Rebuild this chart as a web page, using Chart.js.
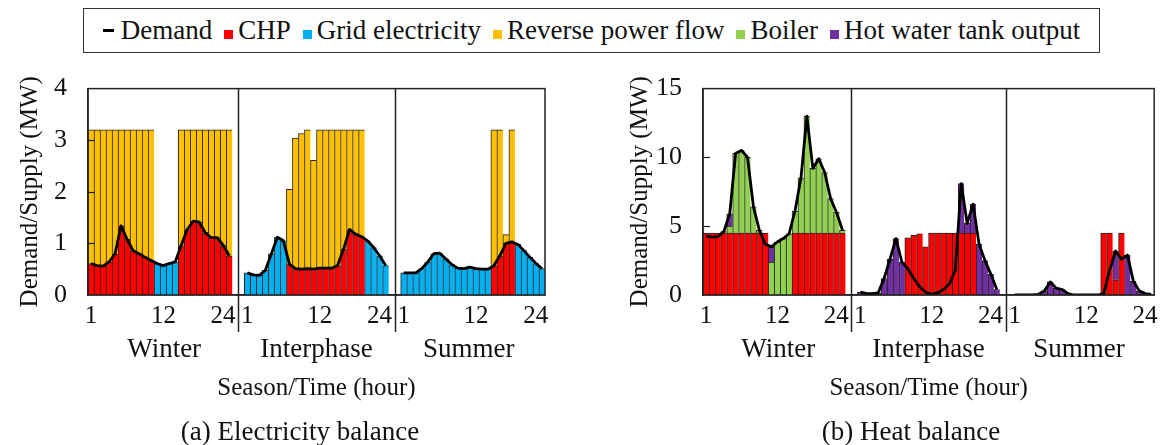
<!DOCTYPE html>
<html>
<head>
<meta charset="utf-8">
<script src="https://cdn.jsdelivr.net/npm/chart.js@4/dist/chart.umd.min.js"></script>
<style>
  html, body { margin: 0; padding: 0; background: #fff; }
  body { width: 1168px; height: 445px; position: relative; overflow: hidden; font-family: 'Liberation Serif', 'Times New Roman', serif; color: #111; }
  #legend { position: absolute; left: 83px; top: 8px; width: 1017px; height: 45px; box-sizing: border-box; border: 1.5px solid #333;
            display: flex; align-items: center; justify-content: center; font-size: 27px; white-space: nowrap; }
  #legend .item { display: flex; align-items: center; margin: 0 6px; }
  #legend .mk { display: inline-block; width: 9px; height: 9px; margin-right: 5px; margin-top: 7px; }
  #legend .ln { display: inline-block; width: 11px; height: 3px; background: #000; margin-right: 7px; }
  .cap { position: absolute; top: 415px; width: 360px; text-align: center; font-size: 27px; line-height: 32px; }
  #capLeft { left: 120px; }
  #capRight { left: 731px; }
  #cLeft { position: absolute; left: 0; top: 60px; }
  #cRight { position: absolute; left: 590px; top: 60px; }
</style>
</head>
<body>
<div id="legend"></div>
<canvas id="cLeft" width="590" height="385"></canvas>
<canvas id="cRight" width="578" height="385"></canvas>
<div class="cap" id="capLeft"></div>
<div class="cap" id="capRight"></div>
<script>
// ============================================================
// DATA (hourly values, 24 per season)
// ============================================================
var hourLabels = ['1','2','3','4','5','6','7','8','9','10','11','12','13','14','15','16','17','18','19','20','21','22','23','24'];
var shownHours = ['1', '12', '24'];
var seasons = ['Winter', 'Interphase', 'Summer'];
var captions = ['(a) Electricity balance', '(b) Heat balance'];

var legendNames = ['Demand', 'CHP', 'Grid electricity', 'Reverse power flow', 'Boiler', 'Hot water tank output'];
var legendColors = ['#000000', '#ff0000', '#00b0f0', '#ffc000', '#92d050', '#7030a0'];

// --- electricity (MW)
var elecDemandWinter = [0.61,0.57,0.56,0.64,0.80,1.34,1.08,0.86,0.80,0.73,0.67,0.61,0.57,0.61,0.64,0.96,1.27,1.43,1.41,1.21,1.11,1.11,0.96,0.76];
var elecChpWinter    = [0.61,0.57,0.56,0.64,0.80,1.34,1.08,0.86,0.80,0.73,0.67,null,null,null,null,0.96,1.27,1.43,1.41,1.21,1.11,1.11,0.96,0.76];
var elecGridWinter   = [null,null,null,null,null,null,null,null,null,null,null,0.61,0.57,0.61,0.64,null,null,null,null,null,null,null,null,null];
var elecRevWinter    = [2.59,2.63,2.64,2.56,2.40,1.86,2.12,2.34,2.40,2.47,2.53,null,null,null,null,2.24,1.93,1.77,1.79,1.99,2.09,2.09,2.24,2.44];

var elecDemandInter  = [0.43,0.39,0.38,0.48,0.80,1.12,1.05,0.60,0.51,0.50,0.51,0.50,0.52,0.52,0.52,0.57,0.89,1.27,1.18,1.13,1.05,0.92,0.76,0.57];
var elecChpInter     = [null,null,null,null,null,null,null,0.60,0.51,0.50,0.51,0.50,0.52,0.52,0.52,0.57,0.89,1.27,1.18,1.13,null,null,null,null];
var elecGridInter    = [0.43,0.39,0.38,0.48,0.80,1.12,1.05,null,null,null,null,null,null,null,null,null,null,null,null,null,1.05,0.92,0.76,0.57];
var elecRevInter     = [null,null,null,null,null,null,null,1.45,2.53,2.63,2.69,2.11,2.68,2.68,2.68,2.63,2.31,1.93,2.02,2.07,null,null,null,null];

var elecDemandSummer = [0.43,0.43,0.43,0.51,0.64,0.80,0.81,0.70,0.59,0.52,0.51,0.54,0.51,0.50,0.50,0.57,0.76,1.00,1.03,0.98,0.86,0.73,0.61,0.51];
var elecChpSummer    = [null,null,null,null,null,null,null,null,null,null,null,null,null,null,null,0.57,0.76,1.00,1.03,null,null,null,null,null];
var elecGridSummer   = [0.43,0.43,0.43,0.51,0.64,0.80,0.81,0.70,0.59,0.52,0.51,0.54,0.51,0.50,0.50,null,null,null,null,0.98,0.86,0.73,0.61,0.51];
var elecRevSummer    = [null,null,null,null,null,null,null,null,null,null,null,null,null,null,null,2.63,2.44,0.17,2.17,null,null,null,null,null];

// --- heat (MW)
var heatDemandWinter = [4.3,4.2,4.25,4.6,5.9,10.3,10.5,10.0,6.4,4.7,3.7,3.5,3.85,4.1,4.45,6.1,8.5,13.0,9.2,9.9,8.9,7.0,6.0,4.7];
var heatChpWinter    = [4.5,4.5,4.5,4.5,4.5,4.5,4.5,4.5,4.5,4.5,4.5,null,null,null,null,4.5,4.5,4.5,4.5,4.5,4.5,4.5,4.5,4.5];
var heatBoilerWinter = [null,null,null,0.1,0.5,5.8,6.0,5.5,1.9,0.2,null,2.4,3.85,4.1,4.45,1.6,4.0,8.5,4.7,5.4,4.4,2.5,1.5,0.2];
var heatTankWinter   = [null,null,null,null,0.9,null,null,null,null,null,null,1.1,null,null,null,null,null,null,null,null,null,null,null,null];

var heatDemandInter  = [0.2,0.12,0.1,0.15,1.2,2.6,4.1,2.4,1.9,1.2,0.6,0.2,0.05,0.15,0.4,0.8,1.8,8.1,5.2,6.6,3.7,2.5,1.5,0.4];
var heatChpInter     = [null,null,null,null,null,null,null,null,4.15,4.33,4.45,3.5,4.5,4.5,4.5,4.5,4.5,4.5,4.5,4.5,null,null,null,null];
var heatBoilerInter  = [null,null,null,null,null,null,null,null,null,null,null,null,null,null,null,null,null,null,null,null,null,null,null,null];
var heatTankInter    = [0.2,0.12,0.1,0.15,1.2,2.6,4.1,2.4,null,null,null,null,null,null,null,null,null,3.6,0.7,2.1,3.7,2.5,1.5,0.4];

var heatDemandSummer = [0,0,0,0,0.05,0.3,0.95,0.5,0.4,0.1,0,0,0,0,0,0.1,1.8,3.2,2.6,2.9,1.0,0.3,0.1,0.05];
var heatChpSummer    = [null,null,null,null,null,null,null,null,null,null,null,null,null,null,null,4.5,4.5,1.1,4.5,null,null,null,null,null];
var heatBoilerSummer = [null,null,null,null,null,null,null,null,null,null,null,null,null,null,null,null,null,null,null,null,null,null,null,null];
var heatTankSummer   = [null,null,null,null,0.05,0.3,0.95,0.5,0.4,0.1,null,null,null,null,null,null,null,2.1,null,2.9,1.0,0.3,0.1,0.05];

// ============================================================
// helpers
// ============================================================
var GAP = [null, null];              // two empty slots between seasons
var FONT = "'Liberation Serif', 'Times New Roman', serif";
var TXT = '#111';

function joinSeasons(w, i, s) { return w.concat(GAP, i, GAP, s); }
var slotLabels = joinSeasons(hourLabels, hourLabels, hourLabels).map(function (l) { return l === null ? '' : l; });

// hour labels sit a little off-centre in the original (12 nudged right, 24 left of the divider)
function hourTick(v, idx) {
  var l = slotLabels[idx];
  if (shownHours.indexOf(l) < 0) return '';
  if (l === '12') return '\u2002' + l;
  if (l === '24') return l + '\u2002';
  return l;
}

// legend + captions (shared html)
(function () {
  var lg = document.getElementById('legend');
  legendNames.forEach(function (n, k) {
    var it = document.createElement('span');
    it.className = 'item';
    var mk = document.createElement('span');
    mk.className = k === 0 ? 'ln' : 'mk';
    if (k > 0) mk.style.background = legendColors[k];
    it.appendChild(mk);
    it.appendChild(document.createTextNode(n));
    lg.appendChild(it);
  });
  document.getElementById('capLeft').textContent = captions[0];
  document.getElementById('capRight').textContent = captions[1];
})();

// separators between seasons, frame, inward y ticks
var framePlugin = {
  id: 'frame',
  afterDatasetsDraw: function (chart) {
    var ctx = chart.ctx, a = chart.chartArea, xs = chart.scales.x, ys = chart.scales.y;
    ctx.save();
    ctx.strokeStyle = '#222';
    ctx.lineWidth = 1.5;
    ctx.strokeRect(a.left, a.top, a.right - a.left, a.bottom - a.top);
    [24, 50].forEach(function (g) {
      var px = Math.round((xs.getPixelForValue(g) + xs.getPixelForValue(g + 1)) / 2) + 0.5;
      ctx.beginPath();
      ctx.moveTo(px, a.top);
      ctx.lineTo(px, a.bottom + 37);
      ctx.stroke();
    });
    ctx.lineWidth = 1.2;
    ys.ticks.forEach(function (t) {
      if (t.value === ys.min || t.value === ys.max) return;
      var py = Math.round(ys.getPixelForValue(t.value)) + 0.5;
      ctx.beginPath();
      ctx.moveTo(a.left, py);
      ctx.lineTo(a.left + 7, py);
      ctx.stroke();
    });
    ctx.restore();
  }
};

function barSet(label, data, color) {
  return {
    type: 'bar', label: label, data: data, backgroundColor: color,
    borderColor: '#222', borderWidth: { top: 1, left: 1, right: 0, bottom: 0 }, borderSkipped: false,
    barPercentage: 1, categoryPercentage: 1, order: 1
  };
}
function lineSet(data) {
  return {
    type: 'line', label: 'Demand', data: data, borderColor: '#000', borderWidth: 2.8,
    borderJoinStyle: 'round', pointRadius: 0, tension: 0, spanGaps: false, stack: 'demand', order: 0
  };
}

function makeChart(id, datasets, yMax, yStep, yWidth, yTitlePad, padRight) {
  return new Chart(document.getElementById(id), {
    type: 'bar',
    data: { labels: slotLabels, datasets: datasets },
    options: {
      responsive: false,
      animation: false,
      layout: { padding: { top: 27, left: 0, right: padRight, bottom: 27 } },
      plugins: { legend: { display: false }, tooltip: { enabled: false } },
      scales: {
        x: {
          type: 'category', stacked: true, offset: true,
          grid: { display: false },
          border: { display: true, color: '#222', width: 1.5 },
          ticks: {
            autoSkip: false, maxRotation: 0, padding: -2, color: TXT,
            font: { family: FONT, size: 25 }, callback: hourTick
          },
          afterFit: function (s) { s.height = 30; }
        },
        season: {
          type: 'category', labels: seasons, offset: true, position: 'bottom',
          grid: { display: false }, border: { display: false },
          ticks: { padding: 1, color: TXT, font: { family: FONT, size: 27 } },
          title: {
            display: true, text: 'Season/Time (hour)', color: TXT,
            font: { family: FONT, size: 25 }, padding: { top: 0, bottom: 15 }
          },
          afterFit: function (s) { s.height = 93; }
        },
        y: {
          stacked: true, min: 0, max: yMax,
          grid: { display: false },
          border: { display: true, color: '#222', width: 1.5 },
          ticks: { stepSize: yStep, padding: 13, color: TXT, font: { family: FONT, size: 26 } },
          title: {
            display: true, text: 'Demand/Supply (MW)', color: TXT,
            font: { family: FONT, size: 25 }, padding: { top: yTitlePad, bottom: 0 }
          },
          afterFit: function (s) { s.width = yWidth; }
        }
      }
    },
    plugins: [framePlugin]
  });
}

// (a) Electricity balance
makeChart('cLeft', [
  lineSet(joinSeasons(elecDemandWinter, elecDemandInter, elecDemandSummer)),
  barSet('CHP', joinSeasons(elecChpWinter, elecChpInter, elecChpSummer), legendColors[1]),
  barSet('Grid electricity', joinSeasons(elecGridWinter, elecGridInter, elecGridSummer), legendColors[2]),
  barSet('Reverse power flow', joinSeasons(elecRevWinter, elecRevInter, elecRevSummer), legendColors[3])
], 4, 1, 88, 15, 45);

// (b) Heat balance
makeChart('cRight', [
  lineSet(joinSeasons(heatDemandWinter, heatDemandInter, heatDemandSummer)),
  barSet('CHP', joinSeasons(heatChpWinter, heatChpInter, heatChpSummer), legendColors[1]),
  barSet('Boiler', joinSeasons(heatBoilerWinter, heatBoilerInter, heatBoilerSummer), legendColors[4]),
  barSet('Hot water tank output', joinSeasons(heatTankWinter, heatTankInter, heatTankSummer), legendColors[5])
], 15, 5, 113, 35, 8);
</script>
</body>
</html>
